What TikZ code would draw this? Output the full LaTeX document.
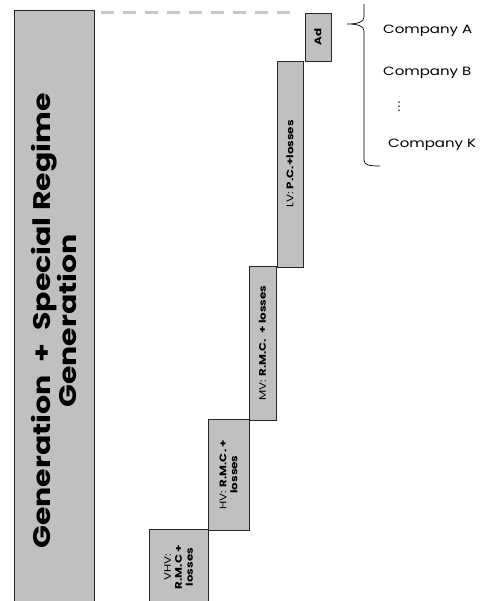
\documentclass[tikz,border=0pt]{standalone}
\usepackage{fontspec}
\setmainfont{Poppins}[FakeStretch=1.25]
\newfontfamily\symfont{DejaVu Sans}
\definecolor{boxgray}{RGB}{192,192,192}
\definecolor{dashgray}{RGB}{200,200,200}

\begin{document}
\begin{tikzpicture}[x=1pt, y=-1pt, align=center, inner sep=0pt]

    \tikzset{
      tariff/.style  = {draw=black!85, fill=boxgray, line width=0.8pt, rotate=90,
                        font=\fontsize{9.5}{11}\selectfont},
      company/.style = {anchor=west, font=\fontsize{12}{14}\selectfont},
      guide/.style   = {draw=dashgray, line width=2.5pt, dash pattern=on 13pt off 9pt},
    }

    \useasboundingbox (0,0) rectangle (480,601);

    \node[tariff, minimum width=622pt, minimum height=80pt,
          font=\fontsize{24}{26}\selectfont\bfseries] (gen) at (54,321)
          {Generation \ + \ Special Regime\\Generation};

    \node[tariff, minimum width=48pt,  minimum height=26pt] (ad)  at (318,37)    {\bfseries Ad};
    \node[tariff, minimum width=206pt, minimum height=26pt] (lv)  at (290,164)   {LV: \textbf{P.C.+losses}};
    \node[tariff, minimum width=154pt, minimum height=27pt] (mv)  at (262.5,343) {MV: \textbf{R.M.C. \ + losses}};
    \node[tariff, minimum width=111pt, minimum height=41pt] (hv)  at (228.5,474.5) {HV: \textbf{R.M.C. +}\\\textbf{losses}};
    \node[tariff, minimum width=76pt,  minimum height=59pt] (vhv) at (178.5,567) {VHV:\\\textbf{R.M.C +}\\\textbf{losses}};

    % dashed guide to the top of Ad
    \draw[guide] ([xshift=7pt]gen.south east |- ad.north east) -- ([xshift=-9pt]ad.north east);

    % companies
    \node[company] (compA) at (383,31)  {Company A};
    \node[company] (compB) at (383,73)  {Company B};
    \node[company, font=\symfont\fontsize{12}{14}\selectfont] (dots) at (393,107) {⋮};
    \node[company] (compK) at (388,145) {Company K};

    % brace
    \draw[line width=0.7pt]
      (364,4) -- (364,17) .. controls (364,22) and (358,24) .. (347,24)
      .. controls (358,24) and (364,26) .. (364,31) -- (364,160)
      .. controls (364,165) and (369,166) .. (380,166);

\end{tikzpicture}
\end{document}
